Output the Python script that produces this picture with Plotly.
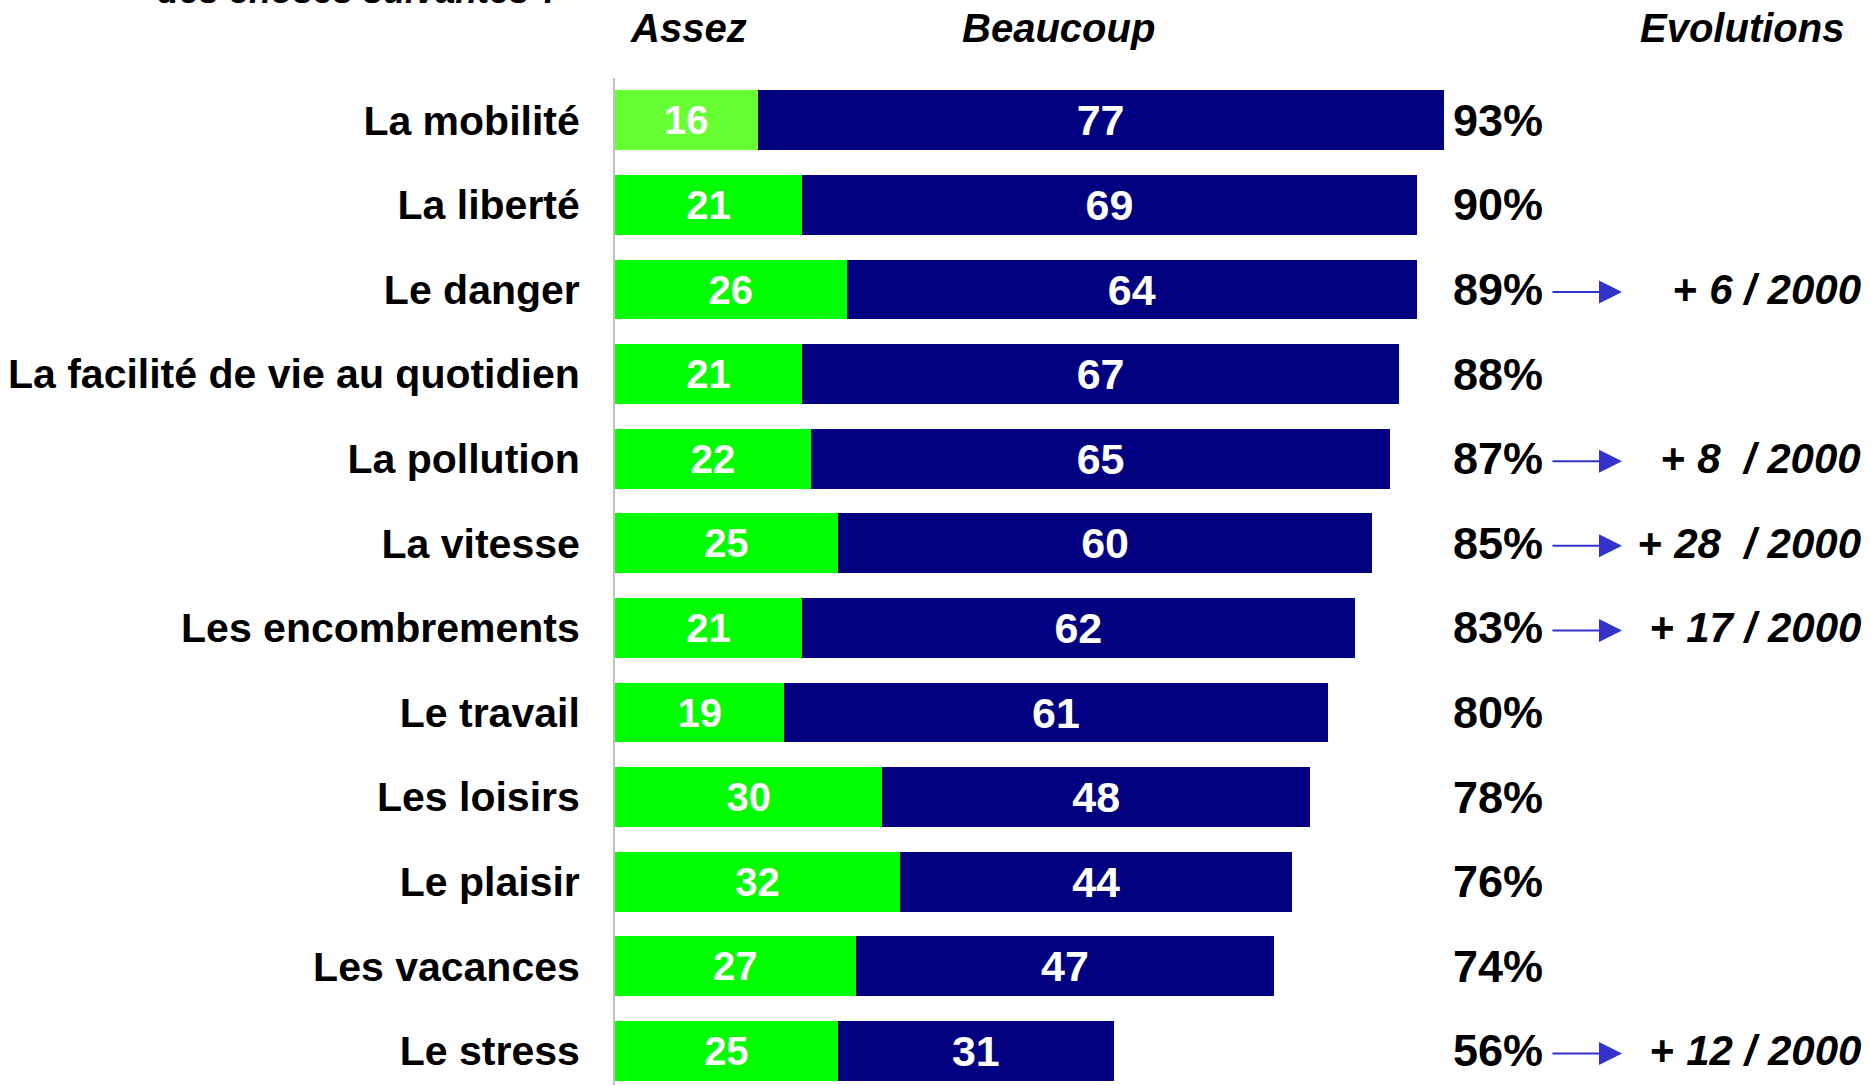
import plotly.graph_objects as go

# ---------------- data ----------------
categories = [
    "La mobilité", "La liberté", "Le danger", "La facilité de vie au quotidien",
    "La pollution", "La vitesse", "Les encombrements", "Le travail",
    "Les loisirs", "Le plaisir", "Les vacances", "Le stress",
]
assez = [16, 21, 26, 21, 22, 25, 21, 19, 30, 32, 27, 25]
beaucoup = [77, 69, 64, 67, 65, 60, 62, 61, 48, 44, 47, 31]
totals = [93, 90, 89, 88, 87, 85, 83, 80, 78, 76, 74, 56]
evolution_labels = [
    None, None, "+ <i>6 / 2000</i>", None, "+ <i>8\u00a0 / 2000</i>",
    "+ <i>28\u00a0 / 2000</i>", "+ <i>17 / 2000</i>", None, None, None, None,
    "+ <i>12 / 2000</i>",
]
headers = ["Assez", "Beaucoup", "Evolutions"]
question_tail = "des choses suivantes ?"

# ---------------- style / layout ----------------
FONT = "Liberation Sans, Arial, sans-serif"
GREEN = "#00FF00"
GREEN_FIRST = "#66FF33"
NAVY = "#000080"
ARROW = "#3333CC"
W, H = 1871, 1085
ML, MT = 615, 78
PX_PER_UNIT = 8.91
XMAX = (W - ML) / PX_PER_UNIT
ROW_PX = 84.6
YMAX = (H - MT) / ROW_PX - 0.5

def px_x(p):
    """page pixel -> x data value"""
    return (p - ML) / PX_PER_UNIT

idx = list(range(len(categories)))
green_colors = [GREEN_FIRST] + [GREEN] * (len(categories) - 1)

fig = go.Figure()
fig.add_trace(go.Bar(
    y=idx, x=assez, orientation="h", name=headers[0],
    marker=dict(color=green_colors, line=dict(width=0)),
    text=[str(v) for v in assez], textposition="inside",
    insidetextanchor="middle", textangle=0,
    textfont=dict(family=FONT, size=40, color="white", weight="bold"),
    hoverinfo="skip",
))
fig.add_trace(go.Bar(
    y=idx, x=beaucoup, orientation="h", name=headers[1],
    marker=dict(color=NAVY, line=dict(width=0)),
    text=[str(v) for v in beaucoup], textposition="inside",
    insidetextanchor="middle", textangle=0,
    textfont=dict(family=FONT, size=43, color="white", weight="bold"),
    hoverinfo="skip",
))

annotations = []
# totals column
for i, t in zip(idx, totals):
    annotations.append(dict(
        x=px_x(1451), y=i, xref="x", yref="y", xanchor="left", yanchor="middle",
        text=f"<b>{t}%</b>", showarrow=False,
        font=dict(family=FONT, size=45, color="black"),
    ))
# evolutions
for i, e in zip(idx, evolution_labels):
    if e is None:
        continue
    annotations.append(dict(
        x=px_x(1622), y=i + 0.03, xref="x", yref="y",
        ax=px_x(1551), ay=i + 0.03, axref="x", ayref="y",
        text="", showarrow=True, arrowhead=2, arrowsize=2.3, arrowwidth=2,
        arrowcolor=ARROW, standoff=0, startstandoff=0,
    ))
    annotations.append(dict(
        x=1.0, y=i, xref="paper", yref="y", xanchor="right", yanchor="middle",
        xshift=-8, text=f"<b>{e}</b>", showarrow=False,
        font=dict(family=FONT, size=42, color="black"),
    ))
# headers
header_px = [688, 1058]
for h, p in zip(headers[:2], header_px):
    annotations.append(dict(
        x=px_x(p), y=1, xref="x", yref="paper", xanchor="center", yanchor="middle",
        yshift=50, text=f"<b><i>{h}</i></b>", showarrow=False,
        font=dict(family=FONT, size=40, color="black"),
    ))
annotations.append(dict(
    x=1.0, y=1, xref="paper", yref="paper", xanchor="right", yanchor="middle",
    xshift=-(W - 1846), yshift=50, text=f"<b><i>{headers[2]}</i></b>",
    showarrow=False, font=dict(family=FONT, size=40, color="black"),
))
# cut-off question at top (only its lower edge shows, as in the source)
annotations.append(dict(
    x=0, y=1, xref="paper", yref="paper", xanchor="left", yanchor="bottom",
    xshift=155 - ML, yshift=65, text=f"<b><i>{question_tail}</i></b>",
    showarrow=False, font=dict(family=FONT, size=36, color="black"),
))

fig.update_layout(
    width=W, height=H,
    margin=dict(l=ML, r=0, t=MT, b=0, pad=0),
    paper_bgcolor="white", plot_bgcolor="white",
    barmode="stack", bargap=0.295, showlegend=False,
    annotations=annotations,
    xaxis=dict(range=[0, XMAX], visible=False, showgrid=False, zeroline=False),
    yaxis=dict(
        range=[YMAX, -0.5], tickvals=idx, ticktext=categories,
        showgrid=False, zeroline=False, ticks="", automargin=False,
        showline=True, linecolor="#C0C0C0", linewidth=2,
        ticklabelstandoff=25,
        tickfont=dict(family=FONT, size=41, color="black", weight="bold"),
    ),
)
fig.write_html(
    "out.html",
    config={"displayModeBar": False},
    post_script="document.body.style.margin='0';document.body.style.overflow='hidden';",
)
